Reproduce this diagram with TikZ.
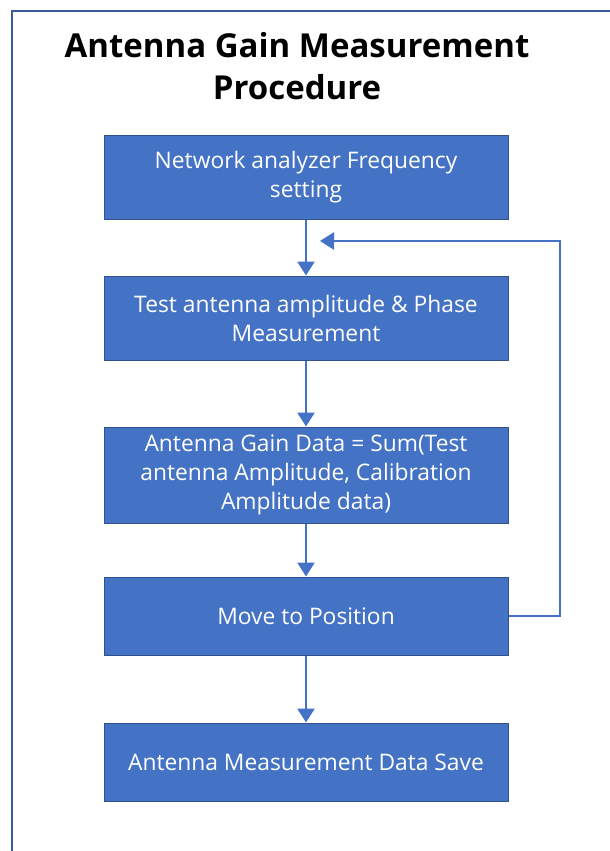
\documentclass[tikz,border=0pt]{standalone}
\usepackage{fontspec}
\setmainfont{Open Sans}
\usetikzlibrary{arrows.meta}
\definecolor{boxblue}{HTML}{4472C4}
\definecolor{boxedge}{HTML}{2F528F}
\definecolor{framecol}{HTML}{3B5C9C}

\begin{document}
\begin{tikzpicture}[x=1pt,y=-1pt,
    stepbox/.style={draw=boxedge, line width=1pt, fill=boxblue, text=white,
      minimum width=404pt, inner sep=0pt, align=center,
      font=\fontsize{22.8}{29}\selectfont},
    flow/.style={draw=boxblue, line width=2.5pt,
      -{Triangle[length=14pt,width=17pt]}}]
    \useasboundingbox (0,0) rectangle (610,851);
    \draw[framecol, line width=2pt] (12,860) |- (620,11);
    \node[font=\bfseries\fontsize{33}{42}\selectfont, align=center] (title) at (297,66)
      {Antenna Gain Measurement\\Procedure};
    \node[stepbox, minimum height=84pt] (freq) at (306,177)
      {Network analyzer Frequency\\setting};
    \node[stepbox, minimum height=84pt] (meas) at (306,318)
      {Test antenna amplitude \& Phase\\Measurement};
    \node[stepbox, minimum height=96pt] (gain) at (306,475)
      {Antenna Gain Data = Sum(Test\\antenna Amplitude, Calibration\\Amplitude data)};
    \node[stepbox, minimum height=78pt] (move) at (306,616) {Move to Position};
    \node[stepbox, minimum height=78pt] (save) at (306,762)
      {Antenna Measurement Data Save};
    \coordinate (loop) at (560,241);
    \coordinate (back) at (320,241);
    \draw[flow] (freq) -- (meas);
    \draw[flow] (meas) -- (gain);
    \draw[flow] (gain) -- (move);
    \draw[flow] (move) -- (save);
    \draw[flow] (move.east) -| (loop) -- (back);
\end{tikzpicture}
\end{document}
